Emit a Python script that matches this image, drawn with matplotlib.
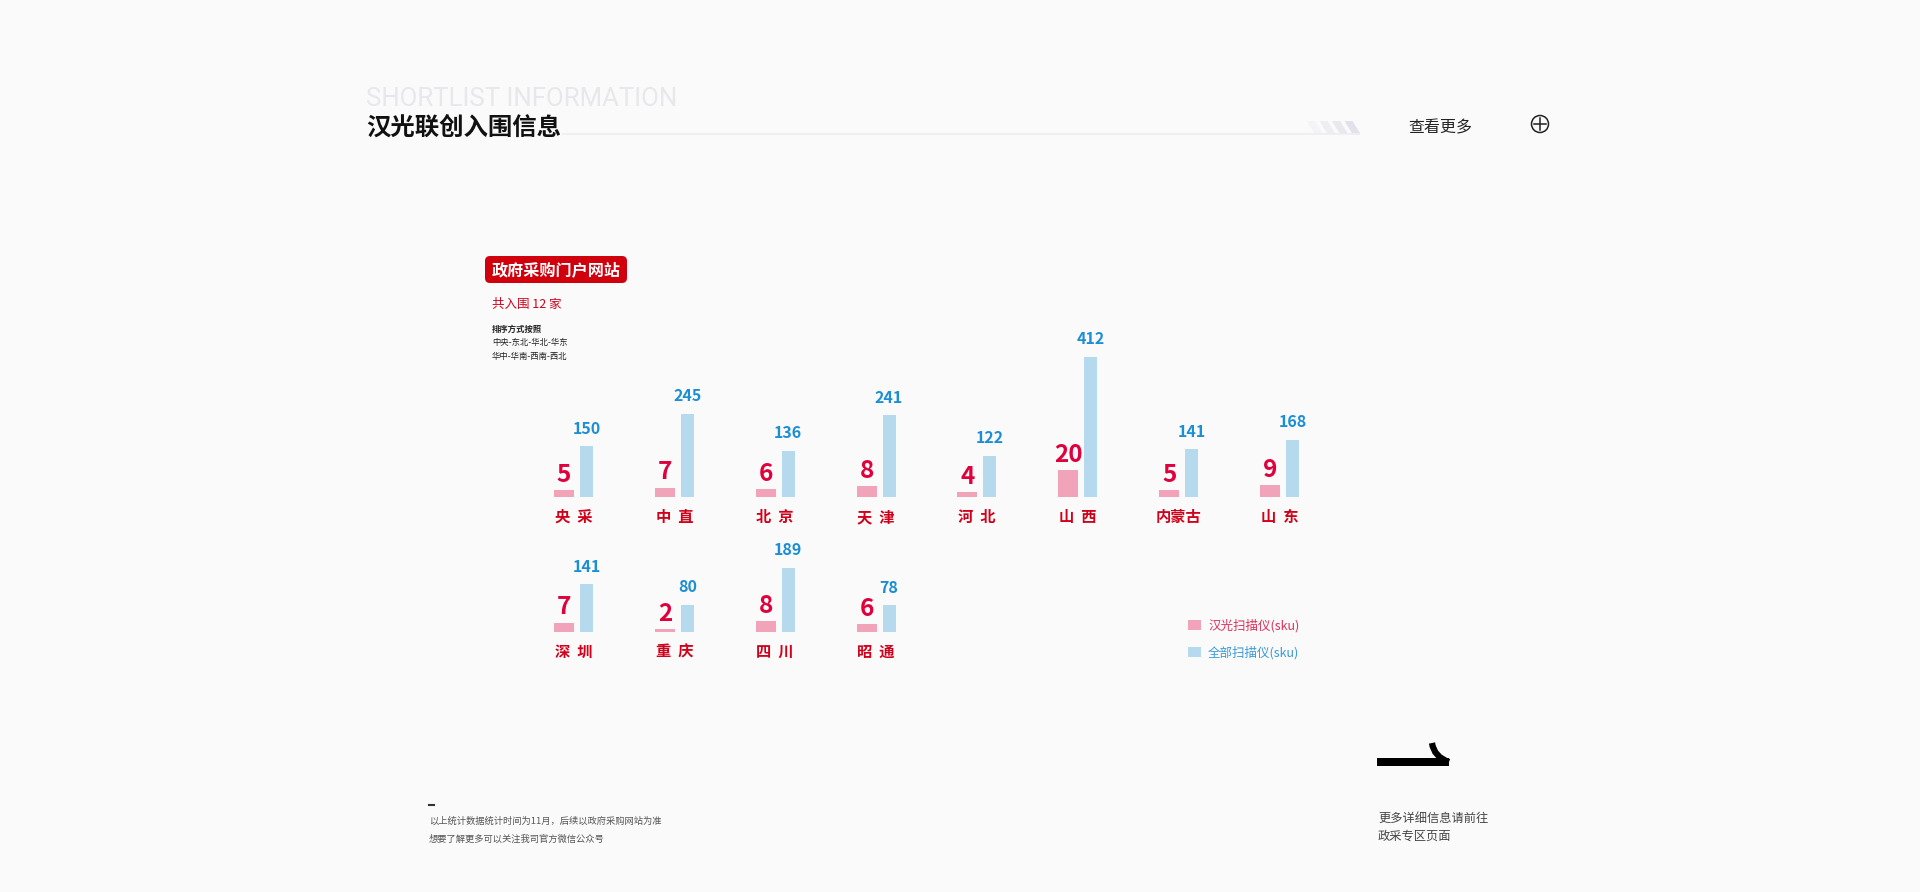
import matplotlib
matplotlib.use('Agg')
import matplotlib.pyplot as plt
from matplotlib.patches import FancyBboxPatch, Polygon, Circle, Rectangle, PathPatch
from matplotlib.path import Path

plt.rcParams['font.family'] = ['Noto Sans CJK SC', 'DejaVu Sans']

# 数据
row1_regions = ['央 采', '中 直', '北 京', '天 津', '河 北', '山 西', '内蒙古', '山 东']
row1_hanguang = [5, 7, 6, 8, 4, 20, 5, 9]
row1_total = [150, 245, 136, 241, 122, 412, 141, 168]

row2_regions = ['深 圳', '重 庆', '四 川', '昭 通']
row2_hanguang = [7, 2, 8, 6]
row2_total = [141, 80, 189, 78]

series_names = ['汉光扫描仪(sku)', '全部扫描仪(sku)']

PINK = '#f0a3b9'
BLUE = '#b5d9ed'
PINK_TXT = '#e0003c'
BLUE_TXT = '#1b8ed4'
LABEL_RED = '#d0021b'
BG = '#fafafa'

W, H = 1920, 892
fig = plt.figure(figsize=(W / 100, H / 100), dpi=100, facecolor=BG)

# 背景层（像素坐标）
bg = fig.add_axes([0, 0, 1, 1])
bg.set_xlim(0, W)
bg.set_ylim(H, 0)
bg.axis('off')

bg.text(366, 99, 'SHORTLIST INFORMATION', family='Roboto', fontweight='normal',
        fontsize=18.5, color='#e8e8ec', va='center')
bg.text(366, 128, '汉光联创入围信息', fontsize=17.6, fontweight='bold', color='#111111', va='center')
bg.plot([563, 1359], [134, 134], color='#ededf1', lw=1.2)
stripe_cols = ['#f4f4f7', '#eeeef2', '#e8e8ee', '#e2e2ea']
for k, c in enumerate(stripe_cols):
    x0 = 1307 + k * 12.5
    bg.add_patch(Polygon([[x0, 121], [x0 + 8, 121], [x0 + 16, 134], [x0 + 8, 134]],
                         closed=True, color=c, lw=0))
bg.text(1408, 128, '查看更多', fontsize=11.5, color='#222222', va='center')
bg.add_patch(Circle((1540, 124), 8.5, fill=False, ec='#222222', lw=1.1))
bg.plot([1534, 1546], [124, 124], color='#222222', lw=1.1)
bg.plot([1540, 1540], [118, 130], color='#222222', lw=1.1)

# 红色标签
bg.add_patch(FancyBboxPatch((485, 256), 142, 27, boxstyle='round,pad=0,rounding_size=5',
                            fc='#d0000c', ec='none'))
bg.text(556, 270, '政府采购门户网站', fontsize=11.6, fontweight='bold', color='white',
        ha='center', va='center')
bg.text(492, 304, '共入围 12 家', fontsize=9, color=LABEL_RED, va='center')
bg.text(492, 329, '排序方式按照', fontsize=6, fontweight='bold', color='#222222', va='center')
bg.text(492, 343, '中央-东北-华北-华东', fontsize=6, color='#222222', va='center')
bg.text(492, 356, '华中-华南-西南-西北', fontsize=6, color='#222222', va='center')

# 底部文字
bg.plot([429, 434], [805, 805], color='#333333', lw=1.5)
bg.text(429, 821, '以上统计数据统计时间为11月，后续以政府采购网站为准', fontsize=6.7,
        color='#555555', va='center')
bg.text(429, 839, '想要了解更多可以关注我司官方微信公众号', fontsize=6.7, color='#555555', va='center')
bg.add_patch(Rectangle((1377, 758), 72, 8, color='black', lw=0))
curve = Path([(1432, 743), (1434, 757), (1449, 762)], [Path.MOVETO, Path.CURVE3, Path.CURVE3])
bg.add_patch(PathPatch(curve, fill=False, ec='black', lw=4.5, capstyle='butt'))
bg.text(1378, 818, '更多详细信息请前往', fontsize=8.8, color='#444444', va='center')
bg.text(1378, 836, '政采专区页面', fontsize=8.8, color='#444444', va='center')

# 柱状图
GROUP = 100.86
AX_LEFT = 564 - 0.5 * GROUP
AX_W = 8 * GROUP
AX_H = 200
BLUE_PX = 0.34   # 每个单位的像素
PINK_PX = 1.35
OFF = 0.223


def draw_row(baseline, regions, hanguang, total):
    ax = fig.add_axes([AX_LEFT / W, (H - baseline) / H, AX_W / W, AX_H / H])
    ax.set_facecolor('none')
    ax2 = ax.twinx()
    ax2.set_facecolor('none')
    ax.set_xlim(-0.5, 7.5)
    ax.set_ylim(0, AX_H / BLUE_PX)
    ax2.set_ylim(0, AX_H / PINK_PX)
    for a in (ax, ax2):
        a.axis('off')
    xs = list(range(len(regions)))
    bp = ax2.bar(xs, hanguang, width=0.198, color=PINK, label=series_names[0])
    bb = ax.bar([x + OFF for x in xs], total, width=0.129, color=BLUE, label=series_names[1])
    for x, v in zip(xs, hanguang):
        ax2.annotate(str(v), (x, v), xytext=(0, 5.8), textcoords='offset points',
                     ha='center', va='baseline', fontsize=17.5, fontweight='bold',
                     color=PINK_TXT, annotation_clip=False)
    for x, v in zip(xs, total):
        ax.annotate(str(v), (x + OFF, v), xytext=(0, 9), textcoords='offset points',
                    ha='center', va='baseline', fontsize=11.5, fontweight='bold',
                    color=BLUE_TXT, annotation_clip=False)
    for x, name in zip(xs, regions):
        ax.annotate(name.replace(' ', '  '), (x + 0.094, 0), xytext=(0, -14.4),
                    textcoords='offset points', ha='center', va='center', fontsize=11,
                    fontweight='bold', color=LABEL_RED, annotation_clip=False)
    return ax, bp, bb


draw_row(497, row1_regions, row1_hanguang, row1_total)
ax_b, bp, bb = draw_row(632, row2_regions, row2_hanguang, row2_total)

leg = fig.legend(handles=[bp, bb], labels=series_names, loc='upper left',
                 bbox_to_anchor=(1188 / W, 1 - 619 / H), frameon=False, fontsize=9,
                 handlelength=1.05, handleheight=0.9, handletextpad=0.55,
                 labelspacing=1.05, borderpad=0, borderaxespad=0,
                 labelcolor=['#e0305a', '#3a9ad9'])

fig.savefig('out.png', dpi=100, facecolor=BG)
